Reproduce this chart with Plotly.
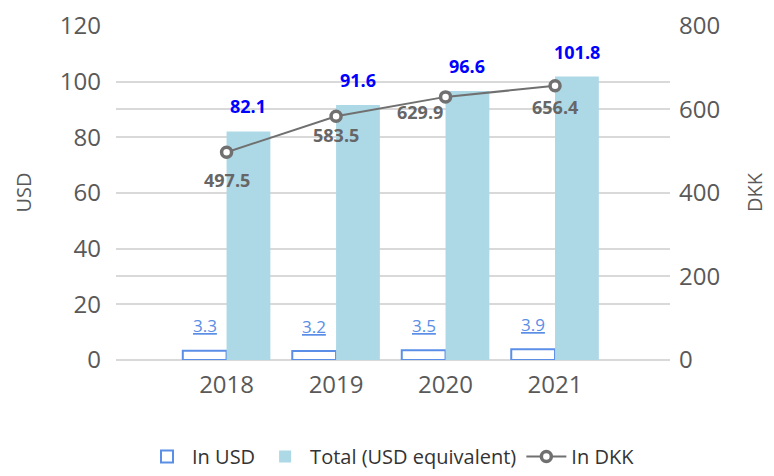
import plotly.graph_objects as go

years = ["2018", "2019", "2020", "2021"]
in_usd = [3.3, 3.2, 3.5, 3.9]
total_usd = [82.1, 91.6, 96.6, 101.8]
in_dkk = [497.5, 583.5, 629.9, 656.4]
usd_ticks = [0, 20, 40, 60, 80, 100, 120]
dkk_ticks = [0, 200, 400, 600, 800]

FONT = "Segoe UI, Open Sans, Noto Sans, sans-serif"
GRAY = "#595959"
fig = go.Figure()

fig.add_trace(go.Bar(
    x=years, y=in_usd, name="In USD",
    marker=dict(color="white", line=dict(color="#5B8EE6", width=2)),
))
fig.add_trace(go.Bar(
    x=years, y=total_usd, name="Total (USD equivalent)",
    marker=dict(color="#ADD8E6", line=dict(width=0)),
))
fig.add_trace(go.Scatter(
    x=years, y=in_dkk, name="In DKK", yaxis="y2", mode="lines+markers",
    line=dict(color="#707070", width=2),
    marker=dict(symbol="circle", size=10, color="white", line=dict(color="#707070", width=3.5)),
))

annotations = []
for i, v in enumerate(in_usd):
    annotations.append(dict(x=i - 0.2, y=v, xref="x", yref="y", text=f"<u>{v}</u>",
                            showarrow=False, yshift=25,
                            font=dict(family=FONT, size=17, color="#5B8EE6")))
for i, v in enumerate(total_usd):
    annotations.append(dict(x=i + 0.2, y=v, xref="x", yref="y", text=f"<b>{v}</b>",
                            showarrow=False, yshift=25,
                            font=dict(family=FONT, size=18, color="#0000FF")))
dkk_xshift = [0, 0, -26, 0]
dkk_yshift = [-28, -19, -15, -21]
for i, v in enumerate(in_dkk):
    annotations.append(dict(x=i, y=v, xref="x", yref="y2", text=f"<b>{v}</b>",
                            showarrow=False, xshift=dkk_xshift[i], yshift=dkk_yshift[i],
                            font=dict(family=FONT, size=18, color="#666666")))

fig.update_layout(
    width=766, height=468,
    margin=dict(l=108, r=104, t=17, b=116, autoexpand=False),
    paper_bgcolor="white", plot_bgcolor="white",
    barmode="group", bargap=0.2, bargroupgap=0,
    font=dict(family=FONT, color=GRAY),
    xaxis=dict(type="category", range=[-1.01, 4.05], showgrid=False, showline=False,
               automargin=False, ticks="", tickfont=dict(size=24, color=GRAY),
               ticklabelstandoff=8),
    yaxis=dict(range=[0, 120.3], tickmode="array", tickvals=usd_ticks,
               showgrid=True, gridcolor="#D9D9D9", gridwidth=2,
               zeroline=True, zerolinecolor="#D9D9D9", zerolinewidth=2, automargin=False,
               tickfont=dict(size=24, color=GRAY), ticks="", ticklabelstandoff=14,
               title=dict(text="USD", font=dict(size=20, color=GRAY), standoff=22)),
    yaxis2=dict(range=[0, 802], tickmode="array", tickvals=dkk_ticks,
                overlaying="y", side="right", automargin=False,
                showgrid=True, gridcolor="#D9D9D9", gridwidth=2, zeroline=False,
                tickfont=dict(size=24, color=GRAY), ticks="", ticklabelstandoff=8,
                title=dict(text="DKK", font=dict(size=20, color=GRAY), standoff=28)),
    legend=dict(orientation="h", x=0.5, xanchor="center", xref="container",
                y=0.0, yanchor="bottom", yref="container",
                font=dict(size=20, color="#333333"), itemwidth=40, traceorder="normal"),
    annotations=annotations,
    showlegend=True,
)

fig.write_html("out.html")
